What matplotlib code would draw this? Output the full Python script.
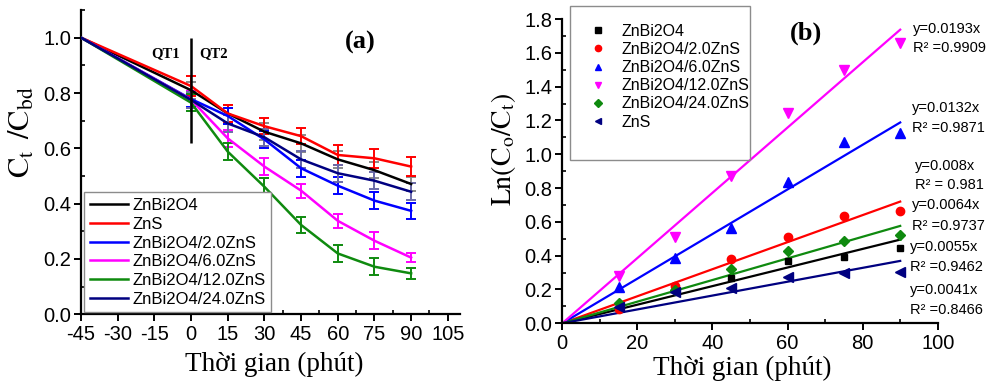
import matplotlib
matplotlib.use("Agg")
import matplotlib.pyplot as plt
from matplotlib.patches import Rectangle
from matplotlib.ticker import MultipleLocator, FormatStrFormatter

plt.rcParams['font.family'] = ['Liberation Sans', 'DejaVu Sans']
plt.rcParams['axes.unicode_minus'] = False

# ---- panel (a) data ----
t_a = [-45, 0, 15, 30, 45, 60, 75, 90]
names_a = ['ZnBi2O4', 'ZnS', 'ZnBi2O4/2.0ZnS', 'ZnBi2O4/6.0ZnS',
           'ZnBi2O4/12.0ZnS', 'ZnBi2O4/24.0ZnS']
ct_znbi2o4 = [1.0, 0.81, 0.726, 0.660, 0.618, 0.560, 0.521, 0.471]
ct_zns = [1.0, 0.825, 0.726, 0.680, 0.644, 0.576, 0.564, 0.534]
ct_2zns = [1.0, 0.778, 0.717, 0.632, 0.528, 0.465, 0.411, 0.374]
ct_6zns = [1.0, 0.776, 0.636, 0.534, 0.447, 0.338, 0.266, 0.205]
ct_12zns = [1.0, 0.765, 0.588, 0.461, 0.323, 0.220, 0.172, 0.148]
ct_24zns = [1.0, 0.775, 0.690, 0.640, 0.560, 0.510, 0.483, 0.443]
err_znbi2o4 = [0, 0.03, 0.03, 0.03, 0.03, 0.03, 0.03, 0.025]
err_zns = [0, 0.035, 0.03, 0.03, 0.03, 0.035, 0.035, 0.033]
err_2zns = [0, 0.03, 0.03, 0.03, 0.03, 0.03, 0.03, 0.03]
err_6zns = [0, 0.03, 0.03, 0.03, 0.025, 0.025, 0.03, 0.015]
err_12zns = [0, 0.03, 0.03, 0.03, 0.03, 0.03, 0.03, 0.02]
err_24zns = [0, 0.03, 0.03, 0.03, 0.03, 0.03, 0.03, 0.03]

# ---- panel (b) data ----
t_b = [15, 30, 45, 60, 75, 90]
names_b = ['ZnBi2O4', 'ZnBi2O4/2.0ZnS', 'ZnBi2O4/6.0ZnS',
           'ZnBi2O4/12.0ZnS', 'ZnBi2O4/24.0ZnS', 'ZnS']
ln_znbi2o4 = [0.105, 0.213, 0.270, 0.371, 0.392, 0.444]
ln_2zns = [0.085, 0.221, 0.382, 0.511, 0.637, 0.666]
ln_6zns = [0.215, 0.385, 0.562, 0.838, 1.075, 1.128]
ln_12zns = [0.28, 0.509, 0.872, 1.243, 1.499, 1.657]
ln_24zns = [0.122, 0.197, 0.319, 0.426, 0.485, 0.521]
ln_zns = [0.095, 0.187, 0.207, 0.276, 0.296, 0.305]
slopes = [0.0055, 0.008, 0.0132, 0.0193, 0.0064, 0.0041]
r2 = ['0.9462', ' 0.981', '0.9871', '0.9909', '0.9737', '0.8466']
eq_txt = ['y=0.0055x', 'y=0.008x', 'y=0.0132x', 'y=0.0193x', 'y=0.0064x', 'y=0.0041x']

green = '#0f8a0f'
colors_a = ['black', 'red', 'blue', 'magenta', green, 'navy']
ecolors_a = ['#8a8a8a', 'red', 'blue', 'magenta', green, '#6a6aa8']
colors_b = ['black', 'red', 'blue', 'magenta', green, 'navy']
markers_b = ['s', 'o', '^', 'v', 'D', '<']
msize_b = [5, 6, 6.5, 6.5, 5.5, 6.5]
# label placement for the fit equations (x, y of equation line, y of R2 line)
eq_x = [92.6, 93.9, 93.1, 93.4, 93.1, 92.6]
eq_y = [0.451, 0.931, 1.274, 1.741, 0.700, 0.197]
r2_y = [0.333, 0.818, 1.155, 1.629, 0.576, 0.079]

fig = plt.figure(figsize=(9.87, 3.85), dpi=100)

def style_axes(ax):
    for s in ['top', 'right']:
        ax.spines[s].set_visible(False)
    for s in ['left', 'bottom']:
        ax.spines[s].set_linewidth(1.6)
    ax.tick_params(which='major', direction='out', length=5, width=1.4,
                   labelsize=14.5, pad=2)
    ax.tick_params(which='minor', direction='in', length=3, width=1.2)
    ax.tick_params(axis='x', which='major', pad=3)

# ---------------- (a) ----------------
ax1 = fig.add_axes([0.0821, 0.1836, 0.3840, 0.7904])
series_a = [ct_znbi2o4, ct_zns, ct_2zns, ct_6zns, ct_12zns, ct_24zns]
errs_a = [err_znbi2o4, err_zns, err_2zns, err_6zns, err_12zns, err_24zns]
for name, y, e, c, ec in zip(names_a, series_a, errs_a, colors_a, ecolors_a):
    ax1.plot(t_a, y, color=c, lw=1.8, label=name, zorder=3)
    ax1.errorbar(t_a[1:], y[1:], yerr=e[1:], fmt='none', ecolor=ec,
                 elinewidth=1.4, capsize=3.5, capthick=1.4, zorder=2)
ax1.vlines(0, 0.62, 1.0, color='black', lw=1.8, zorder=4)
ax1.text(-4.5, 0.944, 'QT1', ha='right', va='center', fontsize=10.5,
         fontweight='bold', family='Liberation Serif')
ax1.text(3.3, 0.944, 'QT2', ha='left', va='center', fontsize=10.5,
         fontweight='bold', family='Liberation Serif')
ax1.text(63, 0.984, '(a)', ha='left', va='center', fontsize=19,
         fontweight='bold', family='Liberation Serif')
ax1.set_xlim(-45, 110)
ax1.set_ylim(0, 1.1)
ax1.xaxis.set_major_locator(MultipleLocator(15))
ax1.xaxis.set_minor_locator(MultipleLocator(7.5))
ax1.yaxis.set_minor_locator(MultipleLocator(0.1))
ax1.set_yticks([0, 0.2, 0.4, 0.6, 0.8, 1.0])
ax1.yaxis.set_major_formatter(FormatStrFormatter('%.1f'))
style_axes(ax1)
ax1.set_xlabel('Thời gian (phút)', family='Liberation Serif', fontsize=19.5)
ax1.xaxis.set_label_coords(0.509, -0.124)
ax1.xaxis.label.set_va('top')
ax1.set_ylabel(r'$\mathrm{C_t\ \,/C_{bd}}$', fontsize=22, math_fontfamily='stix')
ax1.yaxis.set_label_coords(-0.118, 0.597)
leg1 = ax1.legend(loc='lower left', bbox_to_anchor=(0.008, 0.006), borderaxespad=0,
                  fontsize=12, handlelength=2.3, handletextpad=0.25,
                  labelspacing=0.22, borderpad=0.35, fancybox=False, framealpha=1)
leg1.get_frame().set_edgecolor('#8c8c8c')
leg1.get_frame().set_linewidth(1.0)

# ---------------- (b) ----------------
ax2 = fig.add_axes([0.5697, 0.1603, 0.3804, 0.7903])
series_b = [ln_znbi2o4, ln_2zns, ln_6zns, ln_12zns, ln_24zns, ln_zns]
handles = []
for name, y, k, c, m, ms in zip(names_b, series_b, slopes, colors_b, markers_b, msize_b):
    h, = ax2.plot(t_b, y, linestyle='none', marker=m, color=c, ms=ms, label=name, zorder=3)
    handles.append(h)
    ax2.plot([0, 90], [0, k * 90], color=c, lw=1.6, zorder=2)
for txt, rr, x, ye, yr in zip(eq_txt, r2, eq_x, eq_y, r2_y):
    ax2.text(x, ye, txt, fontsize=10.5, va='center', ha='left', clip_on=False)
    ax2.text(x, yr, 'R² =' + rr, fontsize=10.5, va='center', ha='left', clip_on=False)
ax2.text(60.7, 1.718, '(b)', ha='left', va='center', fontsize=19,
         fontweight='bold', family='Liberation Serif')
ax2.set_xlim(0, 100)
ax2.set_ylim(0, 1.8)
ax2.xaxis.set_major_locator(MultipleLocator(20))
ax2.xaxis.set_minor_locator(MultipleLocator(10))
ax2.yaxis.set_major_locator(MultipleLocator(0.2))
ax2.yaxis.set_minor_locator(MultipleLocator(0.1))
ax2.yaxis.set_major_formatter(FormatStrFormatter('%.1f'))
ax2.xaxis.set_major_formatter(FormatStrFormatter('%d'))
style_axes(ax2)
ax2.set_xlabel('Thời gian (phút)', family='Liberation Serif', fontsize=19.5)
ax2.xaxis.set_label_coords(0.479, -0.107)
ax2.xaxis.label.set_va('top')
ax2.set_ylabel(r'$\mathrm{Ln(C_o/C_t)}$', fontsize=20, math_fontfamily='stix')
ax2.yaxis.set_label_coords(-0.118, 0.571)

fig.patches.append(Rectangle((0.578, 0.584), 0.1817, 0.401, transform=fig.transFigure,
                             fill=False, edgecolor='#8c8c8c', lw=1.0))
ax2.legend(handles=handles, loc='upper left', bbox_to_anchor=(0.578, 0.955),
           bbox_transform=fig.transFigure, frameon=False, borderaxespad=0,
           borderpad=0.4, fontsize=11.5, handlelength=2.6, handletextpad=0.2,
           labelspacing=0.2, numpoints=1, markerscale=0.75)

fig.savefig('out.png', dpi=100)
